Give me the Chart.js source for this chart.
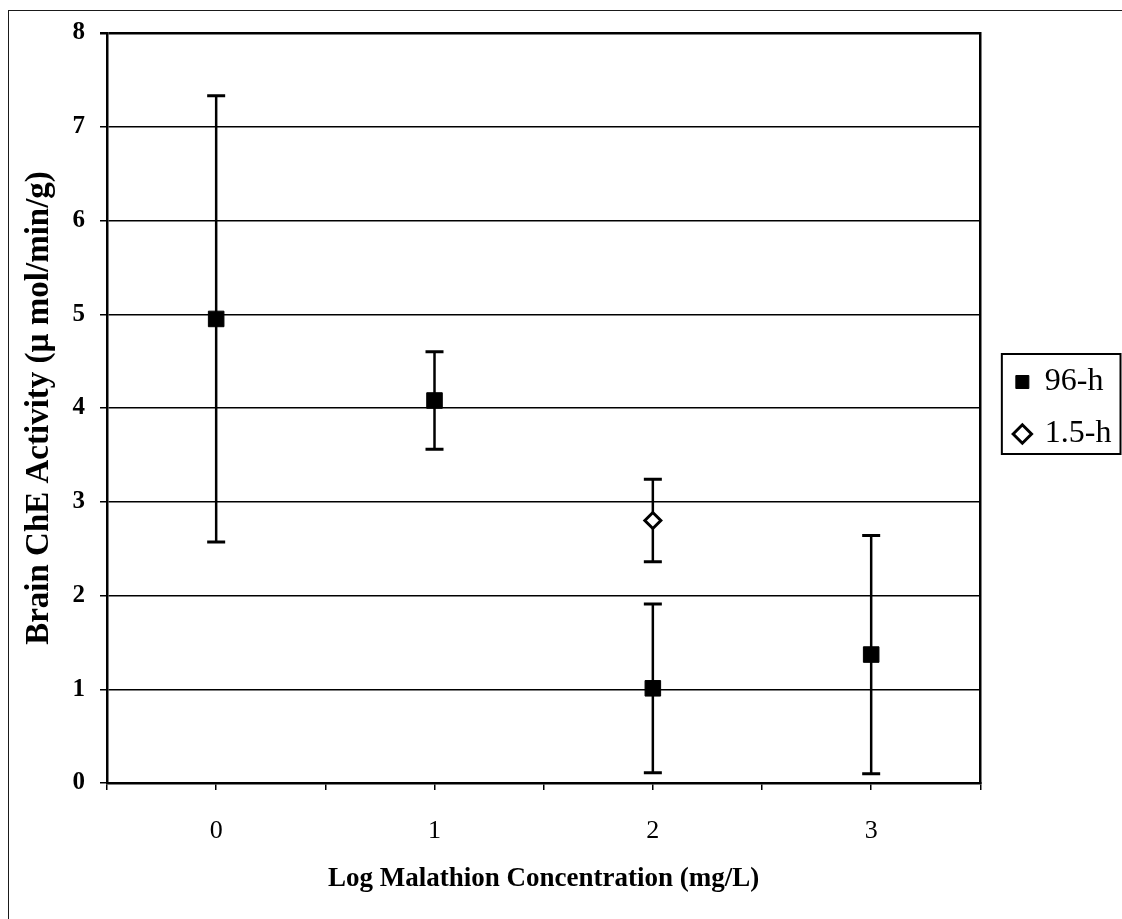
<!DOCTYPE html>
<html>
<head>
<meta charset="utf-8">
<script src="https://cdn.jsdelivr.net/npm/chart.js@4.4.1/dist/chart.umd.min.js"></script>
<style>
  body { margin: 0; background: #fff; }
  #wrap { position: relative; width: 1122px; height: 919px; }
  #frame {
    position: absolute; left: 8px; top: 10px; width: 1114px; height: 909px;
    border-top: 1.5px solid #1a1a1a; border-left: 1.5px solid #1a1a1a;
    box-sizing: border-box; pointer-events: none;
  }
</style>
</head>
<body>
<div id="wrap">
  <canvas id="chart" width="1122" height="919"></canvas>
  <div id="frame"></div>
</div>
<script>
// Log malathion concentration (mg/L) for each exposure group
const logConc96 = [0, 1, 2, 3];
const logConc15 = [2];

// Mean brain ChE activity (umol/min/g) and error half-widths
const mean96 = [4.95, 4.08, 1.01, 1.37];
const err96 = [2.38, 0.52, 0.90, 1.27];
const mean15 = [2.80];
const err15 = [0.44];

const seriesLabels = ["96-h", "1.5-h"];
const xTickLabels = [0, 1, 2, 3];

const serif = "'Liberation Serif', 'Times New Roman', serif";

const points96 = logConc96.map((x, i) => ({ x: x, y: mean96[i], err: err96[i] }));
const points15 = logConc15.map((x, i) => ({ x: x, y: mean15[i], err: err15[i] }));

// vertical error bars with caps, drawn under the markers
const errorBars = {
  id: "errorBars",
  beforeDatasetsDraw(chart) {
    const ctx = chart.ctx;
    const yScale = chart.scales.y;
    ctx.save();
    ctx.strokeStyle = "#000";
    chart.data.datasets.forEach((ds, di) => {
      const meta = chart.getDatasetMeta(di);
      meta.data.forEach((pt, j) => {
        const d = ds.data[j];
        const top = yScale.getPixelForValue(d.y + d.err);
        const bottom = yScale.getPixelForValue(d.y - d.err);
        ctx.lineWidth = 2.5;
        ctx.beginPath();
        ctx.moveTo(pt.x, top);
        ctx.lineTo(pt.x, bottom);
        ctx.stroke();
        ctx.lineWidth = 3;
        ctx.beginPath();
        ctx.moveTo(pt.x - 9, top);
        ctx.lineTo(pt.x + 9, top);
        ctx.moveTo(pt.x - 9, bottom);
        ctx.lineTo(pt.x + 9, bottom);
        ctx.stroke();
      });
    });
    ctx.restore();
  }
};

// keep the legend centred on the plot area rather than the whole canvas
const legendCentre = {
  id: "legendCentre",
  afterLayout(chart) {
    const lg = chart.legend;
    if (!lg) return;
    lg.top = chart.chartArea.top;
    lg.bottom = chart.chartArea.bottom;
    lg.height = lg.bottom - lg.top;
  }
};

// box around the legend entries
const legendFrame = {
  id: "legendFrame",
  afterDraw(chart) {
    const boxes = chart.legend && chart.legend.legendHitBoxes;
    if (!boxes || !boxes.length) return;
    const left = Math.min(...boxes.map(b => b.left)) - 14;
    const top = Math.min(...boxes.map(b => b.top)) - 12;
    const right = Math.max(...boxes.map(b => b.left + b.width)) + 9;
    const bottom = Math.max(...boxes.map(b => b.top + b.height)) + 4;
    const ctx = chart.ctx;
    ctx.save();
    ctx.strokeStyle = "#000";
    ctx.lineWidth = 2;
    ctx.strokeRect(left, top, right - left, bottom - top);
    ctx.restore();
  }
};

new Chart(document.getElementById("chart"), {
  type: "scatter",
  data: {
    datasets: [
      {
        label: seriesLabels[0],
        data: points96,
        pointStyle: "rect",
        pointRadius: 11,
        pointHoverRadius: 11,
        backgroundColor: "#000",
        borderColor: "#000",
        borderWidth: 1
      },
      {
        label: seriesLabels[1],
        data: points15,
        pointStyle: "rectRot",
        pointRadius: 8,
        pointHoverRadius: 8,
        backgroundColor: "#fff",
        borderColor: "#000",
        borderWidth: 3
      }
    ]
  },
  options: {
    responsive: false,
    animation: false,
    devicePixelRatio: 1,
    layout: { padding: { left: 12, top: 33, right: 0.5, bottom: 10 } },
    plugins: {
      tooltip: { enabled: false },
      legend: {
        position: "right",
        labels: {
          usePointStyle: true,
          boxWidth: 13,
          boxHeight: 13,
          padding: 20,
          color: "#000",
          font: { family: serif, size: 32 }
        }
      }
    },
    scales: {
      x: {
        type: "linear",
        min: -0.5,
        max: 3.5,
        afterFit(s) { s.height = 126; },
        ticks: {
          stepSize: 0.5,
          autoSkip: false,
          maxRotation: 0,
          padding: 26,
          color: "#000",
          font: { family: serif, size: 26 },
          callback: v => (xTickLabels.includes(v) ? String(v) : "")
        },
        grid: { drawOnChartArea: false, drawTicks: true, tickLength: 7, color: "#000", lineWidth: 1.5 },
        border: { display: true, color: "#000", width: 2.5 },
        title: {
          display: true,
          text: "Log Malathion Concentration (mg/L)",
          color: "#000",
          font: { family: serif, size: 27, weight: "bold" },
          padding: { top: 0, bottom: 14 }
        }
      },
      y: {
        min: 0,
        max: 8,
        afterFit(s) { s.width = 95; },
        ticks: {
          stepSize: 1,
          padding: 15,
          color: "#000",
          font: { family: serif, size: 25, weight: "bold" }
        },
        grid: {
          color: "#000",
          lineWidth: c => (c.tick && c.tick.value === 8 ? 2.5 : 1.5),
          tickLength: 7
        },
        border: { display: true, color: "#000", width: 2.5 },
        title: {
          display: true,
          text: "Brain ChE Activity (\u00b5 mol/min/g)",
          color: "#000",
          font: { family: serif, size: 33, weight: "bold" },
          padding: { top: 8, bottom: 0 }
        }
      },
      y2: {
        position: "right",
        afterFit(s) { s.width = 15.5; },
        ticks: { display: false },
        grid: { drawOnChartArea: false, drawTicks: false },
        border: { display: true, color: "#000", width: 2.5 }
      }
    }
  },
  plugins: [errorBars, legendCentre, legendFrame]
});
</script>
</body>
</html>
